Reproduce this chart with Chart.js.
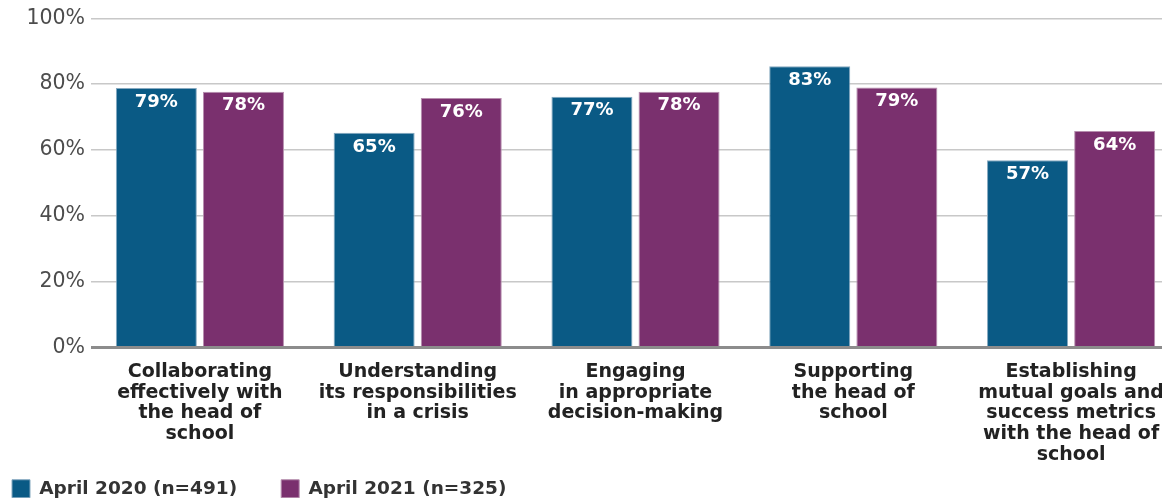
<!DOCTYPE html>
<html lang="en">

<head>
  <meta charset="UTF-8">
  <title>Board effectiveness, April 2020 vs April 2021</title>
  <script src="https://cdn.jsdelivr.net/npm/chart.js"></script>
  <style>
    body {
      margin: 0;
      overflow: hidden;
      background: #fff;
    }
  </style>
</head>

<body>
  <canvas id="chartCanvas" width="1200" height="498"></canvas>

  <script>
    // Categories (multi-line labels as drawn under the axis)
    const categories = [
      ['Collaborating', 'effectively with', 'the head of', 'school'],
      ['Understanding', 'its responsibilities', 'in a crisis'],
      ['Engaging', 'in appropriate', 'decision-making'],
      ['Supporting', 'the head of', 'school'],
      ['Establishing', 'mutual goals and', 'success metrics', 'with the head of', 'school']
    ];

    const seriesNames = ['April 2020 (n=491)', 'April 2021 (n=325)'];

    // Bar heights
    const april2020 = [78.8, 65.2, 76.2, 85.4, 56.9];
    const april2021 = [77.7, 75.8, 77.7, 79.0, 65.8];

    // Printed labels on the bars
    const april2020Labels = ['79%', '65%', '77%', '83%', '57%'];
    const april2021Labels = ['78%', '76%', '78%', '79%', '64%'];

    const yTicks = [0, 20, 40, 60, 80, 100];

    Chart.defaults.font.family = 'DejaVu Sans';

    // Draw the white value labels inside the top of each bar
    const barLabels = {
      id: 'barLabels',
      afterLayout(chart) {
        // let the long category labels run past the legend line instead of being clipped
        chart.scales.x.bottom = chart.height;
      },
      afterDatasetsDraw(chart) {
        const ctx = chart.ctx;
        const texts = [april2020Labels, april2021Labels];
        ctx.save();
        ctx.font = 'bold 18px "DejaVu Sans"';
        ctx.fillStyle = '#ffffff';
        ctx.textAlign = 'center';
        ctx.textBaseline = 'middle';
        chart.data.datasets.forEach((ds, i) => {
          chart.getDatasetMeta(i).data.forEach((bar, j) => {
            ctx.fillText(texts[i][j], bar.x, bar.y + 14);
          });
        });
        ctx.restore();
      }
    };

    const ctx = document.getElementById('chartCanvas').getContext('2d');
    const chart = new Chart(ctx, {
      type: 'bar',
      data: {
        labels: categories,
        datasets: [{
          label: seriesNames[0],
          data: april2020,
          backgroundColor: '#0a5a85',
          borderColor: '#86a9c0',
          borderWidth: 1,
          categoryPercentage: 0.8,
          barPercentage: 0.93
        }, {
          label: seriesNames[1],
          data: april2021,
          backgroundColor: '#7a306e',
          borderColor: '#b68eae',
          borderWidth: 1,
          categoryPercentage: 0.8,
          barPercentage: 0.93
        }]
      },
      options: {
        responsive: false,
        animation: false,
        layout: {
          padding: { top: 18, left: -32, right: 20, bottom: -10 }
        },
        scales: {
          x: {
            grid: { display: false },
            border: { display: false },
            ticks: {
              color: '#222222',
              font: { size: 19, weight: 'bold', lineHeight: 1.09 },
              padding: 6,
              maxRotation: 0,
              autoSkip: false
            },
            afterFit: (scale) => {
              scale.height = 88;
              scale.paddingLeft = 0;
              scale.paddingRight = 0;
            }
          },
          y: {
            min: 0,
            max: 100,
            afterBuildTicks: (scale) => {
              scale.ticks = yTicks.map(v => ({ value: v }));
            },
            border: { display: false },
            grid: {
              drawTicks: false,
              color: (c) => c.tick && c.tick.value === 0 ? '#8c8c8c' : '#c8c8c8',
              lineWidth: (c) => c.tick && c.tick.value === 0 ? 3 : 1.5
            },
            ticks: {
              color: '#4d4d4d',
              font: { size: 20.5 },
              padding: 6,
              callback: (v) => v + '%'
            },
            afterFit: (scale) => {
              scale.width = 123;
            }
          }
        },
        plugins: {
          tooltip: { enabled: false },
          legend: {
            position: 'bottom',
            align: 'start',
            labels: {
              boxWidth: 18,
              boxHeight: 18,
              padding: 44,
              color: '#333333',
              font: { size: 18.5, weight: 'bold' }
            }
          }
        }
      },
      plugins: [barLabels]
    });
  </script>
</body>

</html>
